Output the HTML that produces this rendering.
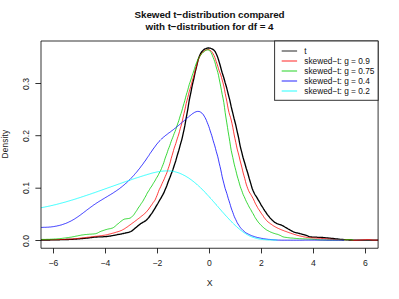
<!DOCTYPE html><html><head><meta charset="utf-8"><style>
html,body{margin:0;padding:0;background:#fff;}
body{width:399px;height:299px;overflow:hidden;position:relative;font-family:"Liberation Sans",sans-serif;color:#000;}
.t{position:absolute;white-space:nowrap;line-height:1;}
.title{font-weight:bold;font-size:9.85px;letter-spacing:-0.08px;left:20px;width:379px;text-align:center;color:#111}
.tk{font-size:8.6px;transform:translate(-50%,-50%);color:#222}
.ytk{font-size:8.6px;transform:translate(-50%,-50%) rotate(-90deg);color:#222}
.lg{font-size:8.3px;transform:translate(0,-50%);left:304.3px;color:#111}

</style></head><body>
<svg width="399" height="299" viewBox="0 0 399 299" style="position:absolute;left:0;top:0">
<defs><clipPath id="c"><rect x="41.00" y="41.00" width="337.10" height="207.25"/></clipPath></defs>
<line x1="41.0" x2="378.1" y1="240.2" y2="240.2" stroke="#bebebe" stroke-width="0.5" opacity="0.6"/>
<g clip-path="url(#c)" fill="none" stroke-linejoin="round" stroke-linecap="round">
<path d="M40.0,240.0 L40.8,240.0 L41.5,240.0 L42.2,240.0 L43.0,240.0 L43.8,240.0 L44.5,240.0 L45.2,240.0 L46.0,240.0 L46.8,240.0 L47.5,240.0 L48.2,240.0 L49.0,240.0 L49.8,240.0 L50.5,239.9 L51.2,239.9 L52.0,239.9 L52.8,239.9 L53.5,239.9 L54.2,239.9 L55.0,239.9 L55.8,239.9 L56.5,239.8 L57.2,239.8 L58.0,239.8 L58.8,239.8 L59.5,239.8 L60.2,239.7 L61.0,239.7 L61.8,239.7 L62.5,239.7 L63.2,239.6 L64.0,239.6 L64.8,239.6 L65.5,239.6 L66.2,239.5 L67.0,239.5 L67.8,239.5 L68.5,239.5 L69.2,239.4 L70.0,239.4 L70.8,239.4 L71.5,239.3 L72.2,239.3 L73.0,239.3 L73.8,239.2 L74.5,239.2 L75.2,239.1 L76.0,239.1 L76.8,239.0 L77.5,238.9 L78.2,238.9 L79.0,238.8 L79.8,238.8 L80.5,238.7 L81.2,238.6 L82.0,238.6 L82.8,238.5 L83.5,238.4 L84.2,238.4 L85.0,238.3 L85.8,238.2 L86.5,238.1 L87.2,238.1 L88.0,238.0 L88.8,237.9 L89.5,237.8 L90.2,237.7 L91.0,237.6 L91.8,237.5 L92.5,237.4 L93.2,237.3 L94.0,237.2 L94.8,237.1 L95.5,237.1 L96.2,237.0 L97.0,237.0 L97.8,236.9 L98.5,236.9 L99.2,236.9 L100.0,236.9 L100.8,236.8 L101.5,236.8 L102.2,236.8 L103.0,236.8 L103.8,236.7 L104.5,236.7 L105.2,236.7 L106.0,236.6 L106.8,236.5 L107.5,236.4 L108.2,236.3 L109.0,236.2 L109.8,236.1 L110.5,236.0 L111.2,235.8 L112.0,235.7 L112.8,235.6 L113.5,235.4 L114.2,235.3 L115.0,235.1 L115.8,235.0 L116.5,234.8 L117.2,234.7 L118.0,234.5 L118.8,234.4 L119.5,234.3 L120.2,234.1 L121.0,234.0 L121.8,233.8 L122.5,233.7 L123.2,233.5 L124.0,233.3 L124.8,233.2 L125.5,233.0 L126.2,232.9 L127.0,232.7 L127.8,232.5 L128.5,232.3 L129.2,232.1 L130.0,231.8 L130.8,231.5 L131.5,231.1 L132.2,230.6 L133.0,230.0 L133.8,229.4 L134.5,228.7 L135.2,228.1 L136.0,227.5 L136.8,226.9 L137.5,226.2 L138.2,225.6 L139.0,225.0 L139.8,224.4 L140.5,223.8 L141.2,223.3 L142.0,222.9 L142.8,222.4 L143.5,222.0 L144.2,221.6 L145.0,221.1 L145.8,220.6 L146.5,220.0 L147.2,219.2 L148.0,218.4 L148.8,217.5 L149.5,216.5 L150.2,215.5 L151.0,214.4 L151.8,213.4 L152.5,212.3 L153.2,211.1 L154.0,209.9 L154.8,208.7 L155.5,207.4 L156.2,206.1 L157.0,204.8 L157.8,203.5 L158.5,202.3 L159.2,201.0 L160.0,199.7 L160.8,198.4 L161.5,197.1 L162.2,195.8 L163.0,194.4 L163.8,192.9 L164.5,191.3 L165.2,189.6 L166.0,187.7 L166.8,185.7 L167.5,183.7 L168.2,181.7 L169.0,179.7 L169.8,177.8 L170.5,175.9 L171.2,173.9 L172.0,171.9 L172.8,169.9 L173.5,167.7 L174.2,165.5 L175.0,163.1 L175.8,160.7 L176.5,158.1 L177.2,155.6 L178.0,153.0 L178.8,150.4 L179.5,147.8 L180.2,145.2 L181.0,142.4 L181.8,139.6 L182.5,136.6 L183.2,133.4 L184.0,129.8 L184.8,125.9 L185.5,121.9 L186.2,117.8 L187.0,113.6 L187.8,109.3 L188.5,104.8 L189.2,100.5 L190.0,96.5 L190.8,92.8 L191.5,89.1 L192.2,85.6 L193.0,82.2 L193.8,78.8 L194.5,75.4 L195.2,72.2 L196.0,68.9 L196.8,65.7 L197.5,62.6 L198.2,59.7 L199.0,57.2 L199.8,55.3 L200.5,53.8 L201.2,52.5 L202.0,51.5 L202.8,50.6 L203.5,49.9 L204.2,49.3 L205.0,48.9 L205.8,48.6 L206.5,48.3 L207.2,48.1 L208.0,48.0 L208.8,48.0 L209.5,48.1 L210.2,48.2 L211.0,48.5 L211.8,48.8 L212.5,49.1 L213.2,49.6 L214.0,50.3 L214.8,51.1 L215.5,52.2 L216.2,53.7 L217.0,55.5 L217.8,57.6 L218.5,59.7 L219.2,62.1 L220.0,64.8 L220.8,67.7 L221.5,70.3 L222.2,72.8 L223.0,75.3 L223.8,77.8 L224.5,80.3 L225.2,82.9 L226.0,85.5 L226.8,88.3 L227.5,91.1 L228.2,94.0 L229.0,97.1 L229.8,100.2 L230.5,103.4 L231.2,106.7 L232.0,110.0 L232.8,113.2 L233.5,116.1 L234.2,119.0 L235.0,122.0 L235.8,125.2 L236.5,128.3 L237.2,131.6 L238.0,135.0 L238.8,138.7 L239.5,142.6 L240.2,146.1 L241.0,149.3 L241.8,152.4 L242.5,155.3 L243.2,158.0 L244.0,160.7 L244.8,163.3 L245.5,165.8 L246.2,168.3 L247.0,170.8 L247.8,173.3 L248.5,175.8 L249.2,178.4 L250.0,181.0 L250.8,183.6 L251.5,186.1 L252.2,188.5 L253.0,190.5 L253.8,192.2 L254.5,193.7 L255.2,195.0 L256.0,196.2 L256.8,197.4 L257.5,198.6 L258.2,199.9 L259.0,201.2 L259.8,202.5 L260.5,203.8 L261.2,205.1 L262.0,206.3 L262.8,207.5 L263.5,208.8 L264.2,209.9 L265.0,211.1 L265.8,212.2 L266.5,213.3 L267.2,214.4 L268.0,215.4 L268.8,216.3 L269.5,217.2 L270.2,218.1 L271.0,218.9 L271.8,219.7 L272.5,220.4 L273.2,221.1 L274.0,221.8 L274.8,222.4 L275.5,222.8 L276.2,223.2 L277.0,223.6 L277.8,223.9 L278.5,224.1 L279.2,224.4 L280.0,224.6 L280.8,224.9 L281.5,225.2 L282.2,225.5 L283.0,225.9 L283.8,226.3 L284.5,226.8 L285.2,227.2 L286.0,227.7 L286.8,228.1 L287.5,228.5 L288.2,229.0 L289.0,229.4 L289.8,229.8 L290.5,230.3 L291.2,230.7 L292.0,231.1 L292.8,231.5 L293.5,231.8 L294.2,232.1 L295.0,232.4 L295.8,232.6 L296.5,232.8 L297.2,232.9 L298.0,233.1 L298.8,233.3 L299.5,233.5 L300.2,233.7 L301.0,233.9 L301.8,234.1 L302.5,234.3 L303.2,234.5 L304.0,234.7 L304.8,235.0 L305.5,235.2 L306.2,235.4 L307.0,235.7 L307.8,236.0 L308.5,236.3 L309.2,236.6 L310.0,236.8 L310.8,236.9 L311.5,237.0 L312.2,237.1 L313.0,237.1 L313.8,237.2 L314.5,237.2 L315.2,237.2 L316.0,237.2 L316.8,237.2 L317.5,237.3 L318.2,237.3 L319.0,237.3 L319.8,237.3 L320.5,237.3 L321.2,237.4 L322.0,237.5 L322.8,237.5 L323.5,237.6 L324.2,237.6 L325.0,237.7 L325.8,237.8 L326.5,237.9 L327.2,237.9 L328.0,238.0 L328.8,238.1 L329.5,238.2 L330.2,238.2 L331.0,238.3 L331.8,238.4 L332.5,238.4 L333.2,238.5 L334.0,238.6 L334.8,238.7 L335.5,238.8 L336.2,238.9 L337.0,238.9 L337.8,239.0 L338.5,239.1 L339.2,239.2 L340.0,239.3 L340.8,239.3 L341.5,239.4 L342.2,239.5 L343.0,239.5 L343.8,239.6 L344.5,239.7 L345.2,239.7 L346.0,239.8 L346.8,239.8 L347.5,239.9 L348.2,239.9 L349.0,240.0 L349.8,240.0 L350.5,240.0 L351.2,240.0 L352.0,240.1 L352.8,240.1 L353.5,240.1 L354.2,240.1 L355.0,240.1 L355.8,240.1 L356.5,240.1 L357.2,240.2 L358.0,240.2 L358.8,240.2 L359.5,240.2 L360.2,240.2 L361.0,240.2 L361.8,240.2 L362.5,240.2 L363.2,240.2 L364.0,240.2 L364.8,240.2 L365.5,240.2 L366.2,240.2 L367.0,240.2 L367.8,240.2 L368.5,240.2 L369.2,240.2 L370.0,240.2 L370.8,240.2 L371.5,240.2 L372.2,240.2 L373.0,240.2 L373.8,240.2 L374.5,240.2 L375.2,240.1 L376.0,240.1 L376.8,240.1 L377.5,240.1 L378.2,240.1 L379.0,240.1" stroke="#000" stroke-width="1.32"/>
<path d="M40.0,239.7 L40.8,239.7 L41.5,239.7 L42.2,239.7 L43.0,239.7 L43.8,239.7 L44.5,239.7 L45.2,239.7 L46.0,239.7 L46.8,239.7 L47.5,239.7 L48.2,239.7 L49.0,239.7 L49.8,239.7 L50.5,239.7 L51.2,239.7 L52.0,239.7 L52.8,239.7 L53.5,239.7 L54.2,239.7 L55.0,239.7 L55.8,239.6 L56.5,239.6 L57.2,239.6 L58.0,239.6 L58.8,239.6 L59.5,239.6 L60.2,239.5 L61.0,239.5 L61.8,239.5 L62.5,239.5 L63.2,239.4 L64.0,239.4 L64.8,239.4 L65.5,239.3 L66.2,239.3 L67.0,239.3 L67.8,239.2 L68.5,239.2 L69.2,239.1 L70.0,239.1 L70.8,239.1 L71.5,239.0 L72.2,238.9 L73.0,238.9 L73.8,238.8 L74.5,238.8 L75.2,238.7 L76.0,238.6 L76.8,238.5 L77.5,238.5 L78.2,238.4 L79.0,238.3 L79.8,238.2 L80.5,238.1 L81.2,238.0 L82.0,237.9 L82.8,237.9 L83.5,237.8 L84.2,237.7 L85.0,237.6 L85.8,237.5 L86.5,237.4 L87.2,237.3 L88.0,237.2 L88.8,237.2 L89.5,237.1 L90.2,237.0 L91.0,236.9 L91.8,236.8 L92.5,236.7 L93.2,236.6 L94.0,236.5 L94.8,236.4 L95.5,236.3 L96.2,236.3 L97.0,236.2 L97.8,236.1 L98.5,236.0 L99.2,235.9 L100.0,235.8 L100.8,235.7 L101.5,235.6 L102.2,235.5 L103.0,235.4 L103.8,235.3 L104.5,235.2 L105.2,235.1 L106.0,234.9 L106.8,234.8 L107.5,234.6 L108.2,234.4 L109.0,234.2 L109.8,234.0 L110.5,233.8 L111.2,233.6 L112.0,233.4 L112.8,233.2 L113.5,233.0 L114.2,232.8 L115.0,232.6 L115.8,232.3 L116.5,232.1 L117.2,231.9 L118.0,231.7 L118.8,231.4 L119.5,231.2 L120.2,230.9 L121.0,230.6 L121.8,230.3 L122.5,229.9 L123.2,229.5 L124.0,229.1 L124.8,228.6 L125.5,228.1 L126.2,227.6 L127.0,227.1 L127.8,226.6 L128.5,226.0 L129.2,225.5 L130.0,224.9 L130.8,224.4 L131.5,223.8 L132.2,223.3 L133.0,222.7 L133.8,222.2 L134.5,221.6 L135.2,221.1 L136.0,220.5 L136.8,219.9 L137.5,219.3 L138.2,218.8 L139.0,218.2 L139.8,217.6 L140.5,217.0 L141.2,216.4 L142.0,215.8 L142.8,215.2 L143.5,214.6 L144.2,214.0 L145.0,213.3 L145.8,212.6 L146.5,211.8 L147.2,210.9 L148.0,210.0 L148.8,209.0 L149.5,207.9 L150.2,206.9 L151.0,205.8 L151.8,204.7 L152.5,203.6 L153.2,202.5 L154.0,201.5 L154.8,200.4 L155.5,199.1 L156.2,197.4 L157.0,195.5 L157.8,193.4 L158.5,191.5 L159.2,189.7 L160.0,188.1 L160.8,186.5 L161.5,184.9 L162.2,183.3 L163.0,181.6 L163.8,180.0 L164.5,178.3 L165.2,176.6 L166.0,174.8 L166.8,172.9 L167.5,170.9 L168.2,168.6 L169.0,166.3 L169.8,163.8 L170.5,161.2 L171.2,158.4 L172.0,155.7 L172.8,153.0 L173.5,150.5 L174.2,148.1 L175.0,145.8 L175.8,143.5 L176.5,141.2 L177.2,138.9 L178.0,136.5 L178.8,134.0 L179.5,131.4 L180.2,128.8 L181.0,126.1 L181.8,123.2 L182.5,120.2 L183.2,116.9 L184.0,113.4 L184.8,110.1 L185.5,106.8 L186.2,103.5 L187.0,100.3 L187.8,97.3 L188.5,94.5 L189.2,91.8 L190.0,89.1 L190.8,86.4 L191.5,83.8 L192.2,81.2 L193.0,78.5 L193.8,75.9 L194.5,73.2 L195.2,70.5 L196.0,67.8 L196.8,65.0 L197.5,62.3 L198.2,60.0 L199.0,57.9 L199.8,56.3 L200.5,55.0 L201.2,53.9 L202.0,53.0 L202.8,52.2 L203.5,51.6 L204.2,50.9 L205.0,50.4 L205.8,50.0 L206.5,49.8 L207.2,49.6 L208.0,49.6 L208.8,49.6 L209.5,49.9 L210.2,50.3 L211.0,50.9 L211.8,51.7 L212.5,52.7 L213.2,54.0 L214.0,55.5 L214.8,57.4 L215.5,59.4 L216.2,61.5 L217.0,63.9 L217.8,66.3 L218.5,68.7 L219.2,70.9 L220.0,72.9 L220.8,75.0 L221.5,77.4 L222.2,80.0 L223.0,82.9 L223.8,86.1 L224.5,89.6 L225.2,93.4 L226.0,97.3 L226.8,101.2 L227.5,105.1 L228.2,108.9 L229.0,112.5 L229.8,115.3 L230.5,117.4 L231.2,120.0 L232.0,123.5 L232.8,127.3 L233.5,131.2 L234.2,135.0 L235.0,138.8 L235.8,142.5 L236.5,145.9 L237.2,149.1 L238.0,152.1 L238.8,155.1 L239.5,158.0 L240.2,161.0 L241.0,164.0 L241.8,167.1 L242.5,170.1 L243.2,173.0 L244.0,175.9 L244.8,178.7 L245.5,181.5 L246.2,184.1 L247.0,186.5 L247.8,188.7 L248.5,190.4 L249.2,191.9 L250.0,193.2 L250.8,194.5 L251.5,195.7 L252.2,196.9 L253.0,198.4 L253.8,200.0 L254.5,201.6 L255.2,203.2 L256.0,204.7 L256.8,206.1 L257.5,207.4 L258.2,208.6 L259.0,209.8 L259.8,211.0 L260.5,212.1 L261.2,213.2 L262.0,214.3 L262.8,215.4 L263.5,216.5 L264.2,217.6 L265.0,218.6 L265.8,219.6 L266.5,220.4 L267.2,221.2 L268.0,221.9 L268.8,222.5 L269.5,223.0 L270.2,223.6 L271.0,224.1 L271.8,224.6 L272.5,225.2 L273.2,225.7 L274.0,226.1 L274.8,226.6 L275.5,227.0 L276.2,227.4 L277.0,227.8 L277.8,228.2 L278.5,228.5 L279.2,228.8 L280.0,229.2 L280.8,229.5 L281.5,229.8 L282.2,230.1 L283.0,230.4 L283.8,230.7 L284.5,231.0 L285.2,231.2 L286.0,231.5 L286.8,231.8 L287.5,232.1 L288.2,232.3 L289.0,232.6 L289.8,232.9 L290.5,233.1 L291.2,233.4 L292.0,233.6 L292.8,233.9 L293.5,234.1 L294.2,234.4 L295.0,234.6 L295.8,234.8 L296.5,235.1 L297.2,235.3 L298.0,235.5 L298.8,235.7 L299.5,235.9 L300.2,236.0 L301.0,236.2 L301.8,236.4 L302.5,236.5 L303.2,236.7 L304.0,236.9 L304.8,237.0 L305.5,237.1 L306.2,237.3 L307.0,237.4 L307.8,237.5 L308.5,237.6 L309.2,237.7 L310.0,237.8 L310.8,237.8 L311.5,237.9 L312.2,237.9 L313.0,238.0 L313.8,238.0 L314.5,238.1 L315.2,238.1 L316.0,238.1 L316.8,238.2 L317.5,238.2 L318.2,238.2 L319.0,238.3 L319.8,238.3 L320.5,238.3 L321.2,238.4 L322.0,238.5 L322.8,238.5 L323.5,238.6 L324.2,238.6 L325.0,238.7 L325.8,238.8 L326.5,238.8 L327.2,238.9 L328.0,239.0 L328.8,239.0 L329.5,239.1 L330.2,239.2 L331.0,239.2 L331.8,239.3 L332.5,239.3 L333.2,239.4 L334.0,239.4 L334.8,239.5 L335.5,239.6 L336.2,239.6 L337.0,239.7 L337.8,239.7 L338.5,239.7 L339.2,239.8 L340.0,239.8 L340.8,239.8 L341.5,239.9 L342.2,239.9 L343.0,239.9 L343.8,239.9 L344.5,239.8 L345.2,239.8 L346.0,239.7 L346.8,239.6 L347.5,239.6 L348.2,239.6 L349.0,239.6 L349.8,239.7 L350.5,239.8 L351.2,240.0 L352.0,240.1 L352.8,240.2 L353.5,240.3 L354.2,240.3 L355.0,240.3 L355.8,240.3 L356.5,240.3 L357.2,240.2 L358.0,240.2 L358.8,240.1 L359.5,240.1 L360.2,240.0 L361.0,240.0 L361.8,239.9 L362.5,239.9 L363.2,239.8 L364.0,239.8 L364.8,239.7 L365.5,239.7 L366.2,239.6 L367.0,239.6 L367.8,239.6 L368.5,239.5 L369.2,239.6 L370.0,239.7 L370.8,239.8 L371.5,239.9 L372.2,240.0 L373.0,240.0 L373.8,240.1 L374.5,240.1 L375.2,240.1 L376.0,240.1 L376.8,240.1 L377.5,240.1 L378.2,240.0 L379.0,240.0" stroke="#ff0000" stroke-width="0.78"/>
<path d="M40.0,239.4 L40.8,239.4 L41.5,239.4 L42.2,239.4 L43.0,239.4 L43.8,239.4 L44.5,239.4 L45.2,239.4 L46.0,239.4 L46.8,239.3 L47.5,239.3 L48.2,239.3 L49.0,239.3 L49.8,239.3 L50.5,239.2 L51.2,239.2 L52.0,239.2 L52.8,239.1 L53.5,239.1 L54.2,239.0 L55.0,239.0 L55.8,239.0 L56.5,238.9 L57.2,238.8 L58.0,238.8 L58.8,238.7 L59.5,238.6 L60.2,238.6 L61.0,238.5 L61.8,238.4 L62.5,238.3 L63.2,238.2 L64.0,238.1 L64.8,238.0 L65.5,237.9 L66.2,237.8 L67.0,237.7 L67.8,237.6 L68.5,237.5 L69.2,237.4 L70.0,237.3 L70.8,237.2 L71.5,237.1 L72.2,236.9 L73.0,236.8 L73.8,236.6 L74.5,236.5 L75.2,236.3 L76.0,236.2 L76.8,236.0 L77.5,235.9 L78.2,235.7 L79.0,235.6 L79.8,235.4 L80.5,235.3 L81.2,235.1 L82.0,235.0 L82.8,234.9 L83.5,234.8 L84.2,234.7 L85.0,234.6 L85.8,234.5 L86.5,234.5 L87.2,234.4 L88.0,234.3 L88.8,234.3 L89.5,234.2 L90.2,234.2 L91.0,234.1 L91.8,234.1 L92.5,234.0 L93.2,234.0 L94.0,233.9 L94.8,233.8 L95.5,233.7 L96.2,233.5 L97.0,233.2 L97.8,232.9 L98.5,232.5 L99.2,232.1 L100.0,231.7 L100.8,231.4 L101.5,231.1 L102.2,230.9 L103.0,230.6 L103.8,230.3 L104.5,230.1 L105.2,229.8 L106.0,229.6 L106.8,229.4 L107.5,229.2 L108.2,229.0 L109.0,228.9 L109.8,228.7 L110.5,228.6 L111.2,228.4 L112.0,228.2 L112.8,227.9 L113.5,227.5 L114.2,227.0 L115.0,226.4 L115.8,225.7 L116.5,225.0 L117.2,224.4 L118.0,223.8 L118.8,223.2 L119.5,222.5 L120.2,221.9 L121.0,221.3 L121.8,220.7 L122.5,220.2 L123.2,219.7 L124.0,219.3 L124.8,219.0 L125.5,218.9 L126.2,218.8 L127.0,218.7 L127.8,218.6 L128.5,218.5 L129.2,218.4 L130.0,218.1 L130.8,217.7 L131.5,217.2 L132.2,216.5 L133.0,215.7 L133.8,214.8 L134.5,213.8 L135.2,212.7 L136.0,211.5 L136.8,210.4 L137.5,209.2 L138.2,208.0 L139.0,206.9 L139.8,205.8 L140.5,204.7 L141.2,203.6 L142.0,202.5 L142.8,201.3 L143.5,200.1 L144.2,198.8 L145.0,197.4 L145.8,196.0 L146.5,194.6 L147.2,193.2 L148.0,191.9 L148.8,190.7 L149.5,189.5 L150.2,188.3 L151.0,187.1 L151.8,186.0 L152.5,184.8 L153.2,183.6 L154.0,182.3 L154.8,181.1 L155.5,179.8 L156.2,178.5 L157.0,177.2 L157.8,175.9 L158.5,174.5 L159.2,173.1 L160.0,171.7 L160.8,170.1 L161.5,168.5 L162.2,166.7 L163.0,164.7 L163.8,162.6 L164.5,160.3 L165.2,158.1 L166.0,155.9 L166.8,153.8 L167.5,151.7 L168.2,149.6 L169.0,147.6 L169.8,145.5 L170.5,143.4 L171.2,141.4 L172.0,139.3 L172.8,137.3 L173.5,135.4 L174.2,133.5 L175.0,131.6 L175.8,129.5 L176.5,127.4 L177.2,125.2 L178.0,122.9 L178.8,120.6 L179.5,118.2 L180.2,115.9 L181.0,113.6 L181.8,111.1 L182.5,108.6 L183.2,106.0 L184.0,103.3 L184.8,100.5 L185.5,97.9 L186.2,95.2 L187.0,92.5 L187.8,89.9 L188.5,87.2 L189.2,84.7 L190.0,82.3 L190.8,80.0 L191.5,77.8 L192.2,75.6 L193.0,73.3 L193.8,71.0 L194.5,68.7 L195.2,66.4 L196.0,64.1 L196.8,62.1 L197.5,60.3 L198.2,58.8 L199.0,57.5 L199.8,56.4 L200.5,55.4 L201.2,54.4 L202.0,53.6 L202.8,52.8 L203.5,52.1 L204.2,51.5 L205.0,50.9 L205.8,50.4 L206.5,50.1 L207.2,49.9 L208.0,49.9 L208.8,50.1 L209.5,50.6 L210.2,51.3 L211.0,52.4 L211.8,54.0 L212.5,55.8 L213.2,57.6 L214.0,59.6 L214.8,61.8 L215.5,64.3 L216.2,67.0 L217.0,69.7 L217.8,72.4 L218.5,75.3 L219.2,78.9 L220.0,82.9 L220.8,86.9 L221.5,90.7 L222.2,94.4 L223.0,98.2 L223.8,102.5 L224.5,107.4 L225.2,112.7 L226.0,118.0 L226.8,122.9 L227.5,127.4 L228.2,131.9 L229.0,136.6 L229.8,141.6 L230.5,146.2 L231.2,150.3 L232.0,154.0 L232.8,157.5 L233.5,160.9 L234.2,164.1 L235.0,167.3 L235.8,170.3 L236.5,173.2 L237.2,176.0 L238.0,178.7 L238.8,181.4 L239.5,183.9 L240.2,186.3 L241.0,188.6 L241.8,190.7 L242.5,192.7 L243.2,194.6 L244.0,196.3 L244.8,198.0 L245.5,199.7 L246.2,201.2 L247.0,202.8 L247.8,204.3 L248.5,205.7 L249.2,207.1 L250.0,208.4 L250.8,209.7 L251.5,211.0 L252.2,212.3 L253.0,213.6 L253.8,215.0 L254.5,216.4 L255.2,217.7 L256.0,218.9 L256.8,220.1 L257.5,221.1 L258.2,222.1 L259.0,223.0 L259.8,223.9 L260.5,224.7 L261.2,225.4 L262.0,226.2 L262.8,226.9 L263.5,227.6 L264.2,228.2 L265.0,228.8 L265.8,229.4 L266.5,229.9 L267.2,230.3 L268.0,230.7 L268.8,231.1 L269.5,231.5 L270.2,231.9 L271.0,232.2 L271.8,232.5 L272.5,232.8 L273.2,233.1 L274.0,233.3 L274.8,233.6 L275.5,233.8 L276.2,234.0 L277.0,234.2 L277.8,234.4 L278.5,234.7 L279.2,235.0 L280.0,235.3 L280.8,235.7 L281.5,236.1 L282.2,236.5 L283.0,236.8 L283.8,237.0 L284.5,237.2 L285.2,237.3 L286.0,237.4 L286.8,237.5 L287.5,237.6 L288.2,237.7 L289.0,237.8 L289.8,237.9 L290.5,238.0 L291.2,238.0 L292.0,238.1 L292.8,238.1 L293.5,238.2 L294.2,238.3 L295.0,238.3 L295.8,238.4 L296.5,238.5 L297.2,238.5 L298.0,238.6 L298.8,238.6 L299.5,238.7 L300.2,238.7 L301.0,238.7 L301.8,238.8 L302.5,238.8 L303.2,238.8 L304.0,238.9 L304.8,238.9 L305.5,238.9 L306.2,238.9 L307.0,239.0 L307.8,239.0 L308.5,239.0 L309.2,239.1 L310.0,239.1 L310.8,239.1 L311.5,239.2 L312.2,239.2 L313.0,239.3 L313.8,239.4 L314.5,239.4 L315.2,239.5 L316.0,239.6 L316.8,239.6 L317.5,239.7 L318.2,239.7 L319.0,239.8 L319.8,239.8 L320.5,239.9 L321.2,239.9 L322.0,239.9 L322.8,239.9 L323.5,240.0 L324.2,240.0 L325.0,240.0 L325.8,240.0 L326.5,240.0 L327.2,240.0 L328.0,240.0 L328.8,240.0 L329.5,240.1 L330.2,240.1 L331.0,240.1 L331.8,240.1 L332.5,240.1 L333.2,240.1 L334.0,240.1 L334.8,240.1 L335.5,240.1 L336.2,240.1 L337.0,240.1 L337.8,240.0 L338.5,240.0 L339.2,240.0 L340.0,240.0 L340.8,240.0 L341.5,240.0 L342.2,240.0 L343.0,240.0 L343.8,240.0 L344.5,239.9 L345.2,239.8 L346.0,239.7 L346.8,239.7 L347.5,239.6 L348.2,239.6 L349.0,239.6 L349.8,239.6 L350.5,239.7 L351.2,239.7 L352.0,239.8 L352.8,239.9" stroke="#00cd00" stroke-width="0.78"/>
<path d="M40.0,227.3 L40.8,227.3 L41.5,227.4 L42.2,227.4 L43.0,227.4 L43.8,227.3 L44.5,227.3 L45.2,227.3 L46.0,227.3 L46.8,227.2 L47.5,227.2 L48.2,227.2 L49.0,227.1 L49.8,227.0 L50.5,227.0 L51.2,226.9 L52.0,226.8 L52.8,226.7 L53.5,226.6 L54.2,226.5 L55.0,226.3 L55.8,226.2 L56.5,226.1 L57.2,225.9 L58.0,225.7 L58.8,225.6 L59.5,225.4 L60.2,225.2 L61.0,225.0 L61.8,224.8 L62.5,224.5 L63.2,224.3 L64.0,224.0 L64.8,223.7 L65.5,223.5 L66.2,223.2 L67.0,222.9 L67.8,222.5 L68.5,222.2 L69.2,221.8 L70.0,221.5 L70.8,221.1 L71.5,220.7 L72.2,220.3 L73.0,219.9 L73.8,219.4 L74.5,219.0 L75.2,218.5 L76.0,218.0 L76.8,217.5 L77.5,217.0 L78.2,216.5 L79.0,216.0 L79.8,215.4 L80.5,214.9 L81.2,214.3 L82.0,213.8 L82.8,213.2 L83.5,212.6 L84.2,212.1 L85.0,211.5 L85.8,210.9 L86.5,210.3 L87.2,209.8 L88.0,209.2 L88.8,208.6 L89.5,208.1 L90.2,207.5 L91.0,207.0 L91.8,206.4 L92.5,205.9 L93.2,205.3 L94.0,204.8 L94.8,204.3 L95.5,203.8 L96.2,203.3 L97.0,202.8 L97.8,202.3 L98.5,201.8 L99.2,201.4 L100.0,200.9 L100.8,200.4 L101.5,200.0 L102.2,199.5 L103.0,199.1 L103.8,198.6 L104.5,198.2 L105.2,197.7 L106.0,197.3 L106.8,196.8 L107.5,196.4 L108.2,195.9 L109.0,195.5 L109.8,195.0 L110.5,194.6 L111.2,194.1 L112.0,193.7 L112.8,193.2 L113.5,192.7 L114.2,192.2 L115.0,191.7 L115.8,191.2 L116.5,190.7 L117.2,190.2 L118.0,189.7 L118.8,189.1 L119.5,188.6 L120.2,188.0 L121.0,187.4 L121.8,186.8 L122.5,186.2 L123.2,185.6 L124.0,185.0 L124.8,184.3 L125.5,183.7 L126.2,183.0 L127.0,182.3 L127.8,181.6 L128.5,180.9 L129.2,180.1 L130.0,179.4 L130.8,178.6 L131.5,177.8 L132.2,177.0 L133.0,176.2 L133.8,175.4 L134.5,174.5 L135.2,173.7 L136.0,172.8 L136.8,171.9 L137.5,171.0 L138.2,170.1 L139.0,169.1 L139.8,168.2 L140.5,167.2 L141.2,166.2 L142.0,165.2 L142.8,164.2 L143.5,163.2 L144.2,162.1 L145.0,161.1 L145.8,160.0 L146.5,158.9 L147.2,157.8 L148.0,156.7 L148.8,155.6 L149.5,154.4 L150.2,153.3 L151.0,152.2 L151.8,151.1 L152.5,150.0 L153.2,149.0 L154.0,147.9 L154.8,146.9 L155.5,145.9 L156.2,144.9 L157.0,143.9 L157.8,143.0 L158.5,142.1 L159.2,141.3 L160.0,140.5 L160.8,139.7 L161.5,139.0 L162.2,138.3 L163.0,137.6 L163.8,137.0 L164.5,136.3 L165.2,135.7 L166.0,135.1 L166.8,134.6 L167.5,134.0 L168.2,133.4 L169.0,132.9 L169.8,132.3 L170.5,131.8 L171.2,131.2 L172.0,130.6 L172.8,130.1 L173.5,129.5 L174.2,128.9 L175.0,128.3 L175.8,127.7 L176.5,127.1 L177.2,126.5 L178.0,125.9 L178.8,125.2 L179.5,124.6 L180.2,124.0 L181.0,123.3 L181.8,122.7 L182.5,122.1 L183.2,121.4 L184.0,120.8 L184.8,120.1 L185.5,119.5 L186.2,118.9 L187.0,118.2 L187.8,117.6 L188.5,116.9 L189.2,116.3 L190.0,115.7 L190.8,115.1 L191.5,114.5 L192.2,113.9 L193.0,113.4 L193.8,112.9 L194.5,112.4 L195.2,112.1 L196.0,111.8 L196.8,111.5 L197.5,111.4 L198.2,111.4 L199.0,111.5 L199.8,111.7 L200.5,112.1 L201.2,112.6 L202.0,113.2 L202.8,114.0 L203.5,115.0 L204.2,116.1 L205.0,117.5 L205.8,119.0 L206.5,120.6 L207.2,122.4 L208.0,124.4 L208.8,126.5 L209.5,128.6 L210.2,130.9 L211.0,133.3 L211.8,135.7 L212.5,138.2 L213.2,140.7 L214.0,143.3 L214.8,145.9 L215.5,148.5 L216.2,151.2 L217.0,154.0 L217.8,156.8 L218.5,159.9 L219.2,163.1 L220.0,166.4 L220.8,169.9 L221.5,173.3 L222.2,176.8 L223.0,180.1 L223.8,183.2 L224.5,186.0 L225.2,188.6 L226.0,191.0 L226.8,193.4 L227.5,195.8 L228.2,198.3 L229.0,200.8 L229.8,203.3 L230.5,205.7 L231.2,208.0 L232.0,210.3 L232.8,212.4 L233.5,214.4 L234.2,216.3 L235.0,218.1 L235.8,219.7 L236.5,221.2 L237.2,222.7 L238.0,224.0 L238.8,225.2 L239.5,226.3 L240.2,227.3 L241.0,228.3 L241.8,229.1 L242.5,229.9 L243.2,230.6 L244.0,231.3 L244.8,231.9 L245.5,232.5 L246.2,233.0 L247.0,233.4 L247.8,233.8 L248.5,234.2 L249.2,234.6 L250.0,234.9 L250.8,235.3 L251.5,235.6 L252.2,235.9 L253.0,236.1 L253.8,236.4 L254.5,236.6 L255.2,236.9 L256.0,237.1 L256.8,237.3 L257.5,237.5 L258.2,237.6 L259.0,237.8 L259.8,238.0 L260.5,238.1 L261.2,238.3 L262.0,238.4 L262.8,238.5 L263.5,238.7 L264.2,238.8 L265.0,238.9 L265.8,239.0 L266.5,239.1 L267.2,239.2 L268.0,239.3 L268.8,239.4 L269.5,239.4 L270.2,239.5 L271.0,239.6 L271.8,239.7 L272.5,239.7 L273.2,239.8 L274.0,239.8 L274.8,239.9 L275.5,239.9 L276.2,240.0 L277.0,240.0 L277.8,240.1 L278.5,240.1 L279.2,240.1 L280.0,240.1 L280.8,240.2 L281.5,240.2 L282.2,240.2 L283.0,240.2 L283.8,240.2 L284.5,240.2 L285.2,240.2 L286.0,240.2 L286.8,240.2 L287.5,240.2 L288.2,240.2 L289.0,240.2 L289.8,240.2 L290.5,240.2 L291.2,240.2 L292.0,240.2 L292.8,240.2 L293.5,240.2 L294.2,240.2 L295.0,240.2 L295.8,240.2 L296.5,240.2 L297.2,240.2 L298.0,240.2 L298.8,240.2 L299.5,240.2 L300.2,240.2 L301.0,240.2 L301.8,240.2 L302.5,240.2 L303.2,240.2 L304.0,240.1 L304.8,240.1 L305.5,240.1 L306.2,240.1 L307.0,240.1 L307.8,240.1 L308.5,240.1 L309.2,240.1 L310.0,240.1 L310.8,240.1 L311.5,240.1 L312.2,240.1 L313.0,240.1 L313.8,240.1 L314.5,240.1 L315.2,240.1 L316.0,240.1 L316.8,240.1 L317.5,240.1 L318.2,240.1 L319.0,240.1 L319.8,240.1 L320.5,240.1 L321.2,240.1 L322.0,240.1 L322.8,240.1 L323.5,240.1 L324.2,240.1 L325.0,240.1 L325.8,240.1 L326.5,240.2 L327.2,240.2 L328.0,240.2 L328.8,240.2 L329.5,240.2 L330.2,240.2 L331.0,240.2 L331.8,240.2 L332.5,240.2 L333.2,240.2 L334.0,240.2 L334.8,240.2 L335.5,240.2 L336.2,240.2 L337.0,240.2 L337.8,240.2 L338.5,240.2 L339.2,240.2 L340.0,240.2 L340.8,240.2 L341.5,240.2 L342.2,240.2 L343.0,240.2 L343.8,240.2" stroke="#0000ff" stroke-width="0.78"/>
<path d="M40.0,207.9 L40.8,207.8 L41.5,207.6 L42.2,207.5 L43.0,207.4 L43.8,207.2 L44.5,207.1 L45.2,206.9 L46.0,206.8 L46.8,206.6 L47.5,206.5 L48.2,206.3 L49.0,206.1 L49.8,206.0 L50.5,205.8 L51.2,205.6 L52.0,205.5 L52.8,205.3 L53.5,205.1 L54.2,204.9 L55.0,204.8 L55.8,204.6 L56.5,204.4 L57.2,204.2 L58.0,204.0 L58.8,203.8 L59.5,203.6 L60.2,203.4 L61.0,203.2 L61.8,203.0 L62.5,202.8 L63.2,202.6 L64.0,202.4 L64.8,202.2 L65.5,202.0 L66.2,201.8 L67.0,201.5 L67.8,201.3 L68.5,201.1 L69.2,200.9 L70.0,200.7 L70.8,200.4 L71.5,200.2 L72.2,200.0 L73.0,199.8 L73.8,199.5 L74.5,199.3 L75.2,199.1 L76.0,198.8 L76.8,198.6 L77.5,198.3 L78.2,198.1 L79.0,197.9 L79.8,197.6 L80.5,197.4 L81.2,197.1 L82.0,196.9 L82.8,196.6 L83.5,196.4 L84.2,196.1 L85.0,195.9 L85.8,195.6 L86.5,195.4 L87.2,195.1 L88.0,194.9 L88.8,194.6 L89.5,194.4 L90.2,194.1 L91.0,193.9 L91.8,193.6 L92.5,193.3 L93.2,193.1 L94.0,192.8 L94.8,192.6 L95.5,192.3 L96.2,192.0 L97.0,191.8 L97.8,191.5 L98.5,191.2 L99.2,191.0 L100.0,190.7 L100.8,190.4 L101.5,190.2 L102.2,189.9 L103.0,189.6 L103.8,189.4 L104.5,189.1 L105.2,188.8 L106.0,188.6 L106.8,188.3 L107.5,188.0 L108.2,187.8 L109.0,187.5 L109.8,187.2 L110.5,187.0 L111.2,186.7 L112.0,186.4 L112.8,186.2 L113.5,185.9 L114.2,185.6 L115.0,185.4 L115.8,185.1 L116.5,184.8 L117.2,184.6 L118.0,184.3 L118.8,184.0 L119.5,183.8 L120.2,183.5 L121.0,183.2 L121.8,183.0 L122.5,182.7 L123.2,182.4 L124.0,182.2 L124.8,181.9 L125.5,181.7 L126.2,181.4 L127.0,181.1 L127.8,180.9 L128.5,180.6 L129.2,180.4 L130.0,180.1 L130.8,179.9 L131.5,179.6 L132.2,179.3 L133.0,179.1 L133.8,178.8 L134.5,178.6 L135.2,178.3 L136.0,178.1 L136.8,177.8 L137.5,177.6 L138.2,177.4 L139.0,177.1 L139.8,176.9 L140.5,176.6 L141.2,176.4 L142.0,176.2 L142.8,175.9 L143.5,175.7 L144.2,175.4 L145.0,175.2 L145.8,175.0 L146.5,174.8 L147.2,174.5 L148.0,174.3 L148.8,174.1 L149.5,173.9 L150.2,173.7 L151.0,173.4 L151.8,173.2 L152.5,173.0 L153.2,172.8 L154.0,172.7 L154.8,172.5 L155.5,172.3 L156.2,172.1 L157.0,172.0 L157.8,171.8 L158.5,171.7 L159.2,171.6 L160.0,171.5 L160.8,171.3 L161.5,171.2 L162.2,171.2 L163.0,171.1 L163.8,171.0 L164.5,171.0 L165.2,170.9 L166.0,170.9 L166.8,170.9 L167.5,170.9 L168.2,170.9 L169.0,170.9 L169.8,171.0 L170.5,171.0 L171.2,171.1 L172.0,171.2 L172.8,171.3 L173.5,171.5 L174.2,171.6 L175.0,171.8 L175.8,172.0 L176.5,172.2 L177.2,172.4 L178.0,172.7 L178.8,172.9 L179.5,173.2 L180.2,173.5 L181.0,173.8 L181.8,174.2 L182.5,174.5 L183.2,174.9 L184.0,175.3 L184.8,175.7 L185.5,176.1 L186.2,176.5 L187.0,177.0 L187.8,177.5 L188.5,177.9 L189.2,178.4 L190.0,179.0 L190.8,179.5 L191.5,180.0 L192.2,180.6 L193.0,181.2 L193.8,181.8 L194.5,182.4 L195.2,183.0 L196.0,183.6 L196.8,184.3 L197.5,185.0 L198.2,185.6 L199.0,186.3 L199.8,187.0 L200.5,187.7 L201.2,188.5 L202.0,189.2 L202.8,189.9 L203.5,190.7 L204.2,191.5 L205.0,192.3 L205.8,193.0 L206.5,193.8 L207.2,194.7 L208.0,195.5 L208.8,196.3 L209.5,197.1 L210.2,198.0 L211.0,198.8 L211.8,199.6 L212.5,200.5 L213.2,201.3 L214.0,202.2 L214.8,203.1 L215.5,203.9 L216.2,204.8 L217.0,205.6 L217.8,206.5 L218.5,207.4 L219.2,208.2 L220.0,209.1 L220.8,210.0 L221.5,210.8 L222.2,211.7 L223.0,212.5 L223.8,213.4 L224.5,214.2 L225.2,215.0 L226.0,215.9 L226.8,216.7 L227.5,217.5 L228.2,218.3 L229.0,219.1 L229.8,219.9 L230.5,220.7 L231.2,221.5 L232.0,222.2 L232.8,223.0 L233.5,223.7 L234.2,224.5 L235.0,225.2 L235.8,225.9 L236.5,226.6 L237.2,227.3 L238.0,227.9 L238.8,228.6 L239.5,229.2 L240.2,229.8 L241.0,230.4 L241.8,231.0 L242.5,231.6 L243.2,232.1 L244.0,232.6 L244.8,233.2 L245.5,233.6 L246.2,234.1 L247.0,234.6 L247.8,235.0 L248.5,235.4 L249.2,235.8 L250.0,236.1 L250.8,236.4 L251.5,236.8 L252.2,237.1 L253.0,237.3 L253.8,237.6 L254.5,237.8 L255.2,238.0 L256.0,238.3 L256.8,238.4 L257.5,238.6 L258.2,238.8 L259.0,238.9 L259.8,239.1 L260.5,239.2 L261.2,239.3 L262.0,239.4 L262.8,239.5 L263.5,239.6 L264.2,239.6 L265.0,239.7 L265.8,239.7 L266.5,239.8 L267.2,239.8 L268.0,239.9 L268.8,239.9 L269.5,239.9 L270.2,239.9 L271.0,239.9 L271.8,239.9 L272.5,240.0 L273.2,240.0 L274.0,240.0 L274.8,240.0 L275.5,240.0 L276.2,240.0 L277.0,240.0" stroke="#00ffff" stroke-width="0.78"/>
</g>
<g stroke="#000" stroke-width="1.0" fill="none" opacity="0.8">
<rect x="41.0" y="41.0" width="337.1" height="207.25" stroke-linejoin="round"/>
</g>
<g stroke="#000" stroke-width="1" fill="none" opacity="0.8">
<line x1="53.50" x2="53.50" y1="248.25" y2="253.45"/>
<line x1="105.50" x2="105.50" y1="248.25" y2="253.45"/>
<line x1="157.50" x2="157.50" y1="248.25" y2="253.45"/>
<line x1="209.50" x2="209.50" y1="248.25" y2="253.45"/>
<line x1="261.50" x2="261.50" y1="248.25" y2="253.45"/>
<line x1="313.50" x2="313.50" y1="248.25" y2="253.45"/>
<line x1="365.50" x2="365.50" y1="248.25" y2="253.45"/>
<line x1="35.4" x2="41.0" y1="240.50" y2="240.50"/>
<line x1="35.4" x2="41.0" y1="188.20" y2="188.20"/>
<line x1="35.4" x2="41.0" y1="135.70" y2="135.70"/>
<line x1="35.4" x2="41.0" y1="83.50" y2="83.50"/>
</g>
<rect x="274.6" y="41.0" width="103.5" height="59.3" fill="#fff" stroke="#000" stroke-width="1.0" opacity="1" stroke-opacity="0.8"/>
<line x1="281.7" x2="297.1" y1="51.0" y2="51.0" stroke="#000" stroke-width="1" opacity="0.85"/>
<line x1="281.7" x2="297.1" y1="61.0" y2="61.0" stroke="#ff0000" stroke-width="1" opacity="0.85"/>
<line x1="281.7" x2="297.1" y1="71.0" y2="71.0" stroke="#00cd00" stroke-width="1" opacity="0.85"/>
<line x1="281.7" x2="297.1" y1="81.0" y2="81.0" stroke="#0000ff" stroke-width="1" opacity="0.85"/>
<line x1="281.7" x2="297.1" y1="91.0" y2="91.0" stroke="#00ffff" stroke-width="1" opacity="0.85"/>
</svg>
<div class="t title" style="top:9.6px">Skewed t−distribution compared</div>
<div class="t title" style="top:21.5px">with t−distribution for df = 4</div>
<div class="t tk" style="left:53.5px;top:262.9px">−6</div>
<div class="t tk" style="left:105.5px;top:262.9px">−4</div>
<div class="t tk" style="left:157.5px;top:262.9px">−2</div>
<div class="t tk" style="left:209.5px;top:262.9px">0</div>
<div class="t tk" style="left:261.5px;top:262.9px">2</div>
<div class="t tk" style="left:313.5px;top:262.9px">4</div>
<div class="t tk" style="left:365.5px;top:262.9px">6</div>
<div class="t ytk" style="left:25.8px;top:240.5px">0.0</div>
<div class="t ytk" style="left:25.8px;top:188.2px">0.1</div>
<div class="t ytk" style="left:25.8px;top:135.7px">0.2</div>
<div class="t ytk" style="left:25.8px;top:83.5px">0.3</div>
<div class="t tk" style="left:209.6px;top:283.4px;font-size:8.8px">X</div>
<div class="t ytk" style="left:6.3px;top:144.3px;font-size:8.25px;letter-spacing:0.18px">Density</div>
<div class="t lg" style="top:50.699999999999996px">t</div>
<div class="t lg" style="top:60.699999999999996px">skewed−t: g = 0.9</div>
<div class="t lg" style="top:70.7px">skewed−t: g = 0.75</div>
<div class="t lg" style="top:80.7px">skewed−t: g = 0.4</div>
<div class="t lg" style="top:90.7px">skewed−t: g = 0.2</div>
</body></html>
